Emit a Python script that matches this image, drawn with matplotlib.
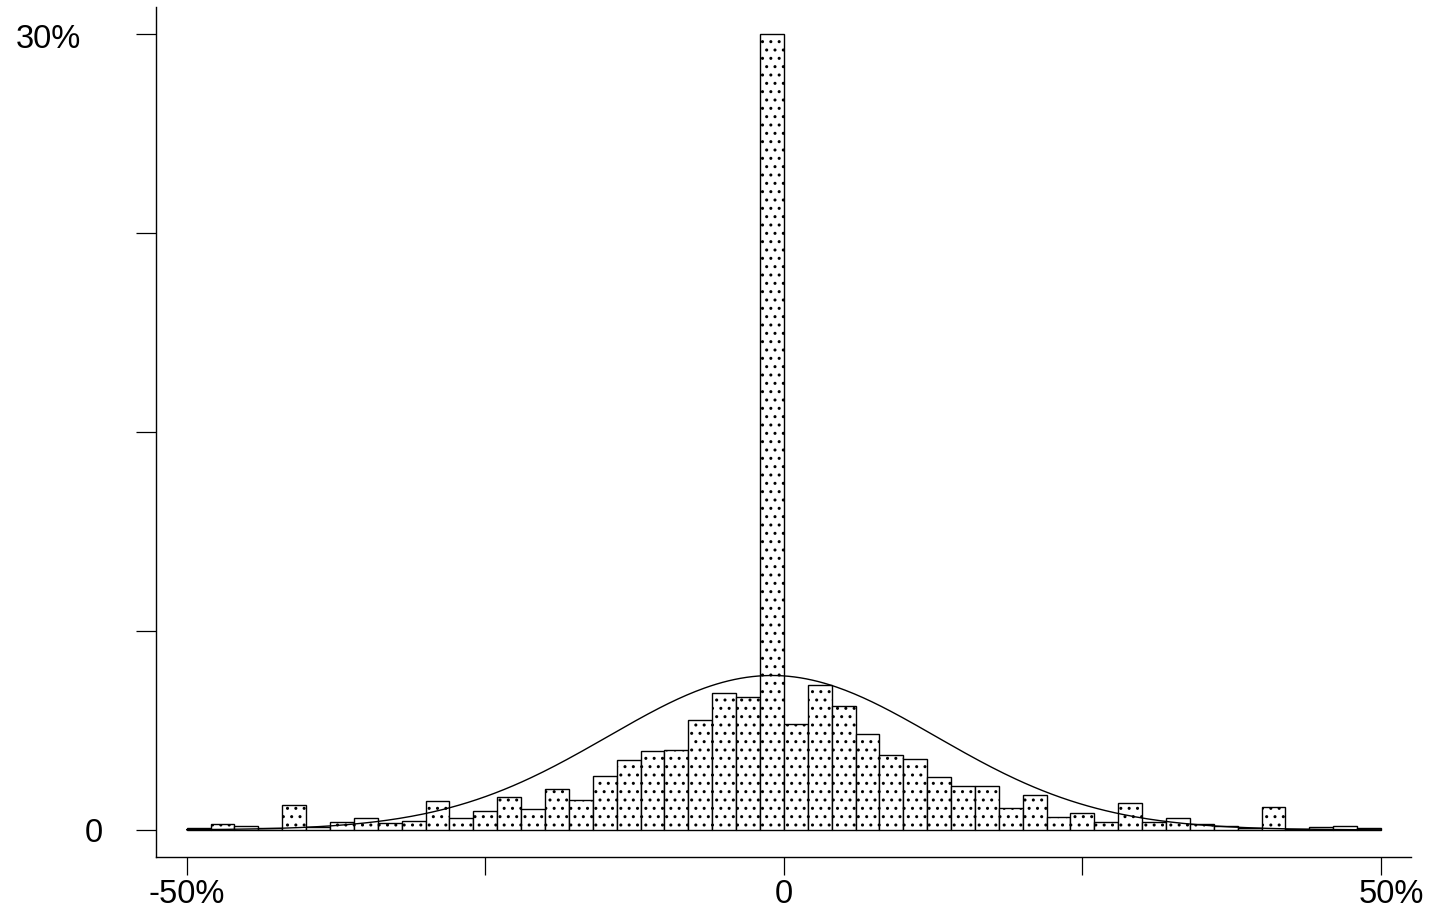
import numpy as np
import matplotlib.pyplot as plt
import matplotlib.transforms as mtransforms

plt.rcParams['font.family'] = ['Liberation Sans', 'DejaVu Sans']
plt.rcParams['hatch.color'] = 'black'
plt.rcParams['hatch.linewidth'] = 1.0

# histogram: 50 bins of 2 percentage points from -50% to 50%
bin_edges = np.arange(-50, 52, 2)
bin_pct = [0.08, 0.21, 0.16, 0.08, 0.94, 0.12, 0.29, 0.44, 0.28, 0.34,
           1.08, 0.45, 0.71, 1.25, 0.78, 1.54, 1.12, 2.03, 2.63, 2.98,
           3.02, 4.14, 5.16, 5.02, 30.0, 3.99, 5.47, 4.67, 3.60, 2.82,
           2.66, 2.01, 1.67, 1.67, 0.81, 1.32, 0.48, 0.63, 0.30, 1.01,
           0.30, 0.44, 0.23, 0.14, 0.08, 0.86, 0.05, 0.10, 0.14, 0.06]

# normal curve overlay (mean, sd in %)
norm_mu = -1.0
norm_sd = 13.7

xticks = [-50, -25, 0, 25, 50]
xticklabels = ['-50%', '', '0', '', '50%']
yticks = [0, 7.5, 15, 22.5, 30]
yticklabels = ['0', '', '', '', '30%']

W, H = 1431, 910
fig = plt.figure(figsize=(W / 100, H / 100), dpi=100)
ax = fig.add_axes([156 / W, (H - 857) / H, (1411 - 156) / W, (857 - 7) / H])

widths = np.diff(bin_edges)
ax.bar(bin_edges[:-1], bin_pct, width=widths, align='edge',
       facecolor='white', edgecolor='black', linewidth=1.0, hatch='..')

xs = np.linspace(-50, 50, 400)
binw = widths[0]
curve = binw * 100 / (norm_sd * np.sqrt(2 * np.pi)) * np.exp(-0.5 * ((xs - norm_mu) / norm_sd) ** 2)
ax.plot(xs, curve, color='black', linewidth=1.0)

ax.set_xlim(-52.57, 52.51)
ax.set_ylim(-1.02, 31.03)

for s in ['top', 'right']:
  ax.spines[s].set_visible(False)
for s in ['left', 'bottom']:
  ax.spines[s].set_linewidth(1.0)

ax.set_xticks(xticks)
ax.set_xticklabels(xticklabels)
ax.set_yticks(yticks)
ax.set_yticklabels(yticklabels)
ax.tick_params(axis='x', length=13, width=0.9, pad=3, labelsize=23.5)
ax.tick_params(axis='y', length=14.4, width=0.9, pad=24, labelsize=23.5)

# nudge a couple of labels like the original
ylabs = ax.get_yticklabels()
ylabs[4].set_transform(ylabs[4].get_transform() +
                       mtransforms.ScaledTranslation(-22 / 100, -2 / 100, fig.dpi_scale_trans))
xlabs = ax.get_xticklabels()
xlabs[4].set_transform(xlabs[4].get_transform() +
                       mtransforms.ScaledTranslation(10 / 100, 0, fig.dpi_scale_trans))

fig.savefig('out.png', dpi=100)
